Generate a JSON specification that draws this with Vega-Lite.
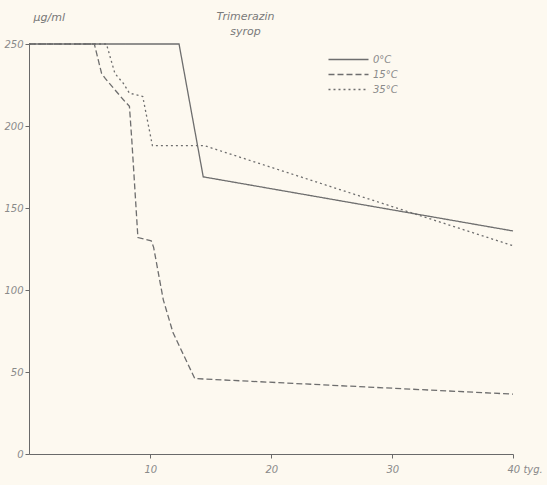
{
  "$schema": "https://vega.github.io/schema/vega-lite/v6.json",
  "width": 484,
  "height": 410,
  "autosize": {"type": "none"},
  "padding": {"left": 29, "top": 44, "right": 34, "bottom": 31},
  "background": "#fdf9f0",
  "config": {
    "view": {"stroke": null},
    "axis": {"grid": false, "domainColor": "#6a6a6a", "tickColor": "#6a6a6a", "labelColor": "#8a8a8a", "labelFont": "DejaVu Sans", "labelFontStyle": "italic", "labelFontSize": 10, "titleColor": "#777"}
  },
  "data": {"values": [
    {"s": "0°C", "o": 1, "x": 0, "y": 250},
    {"s": "0°C", "o": 2, "x": 12.4, "y": 250},
    {"s": "0°C", "o": 3, "x": 14.4, "y": 169},
    {"s": "0°C", "o": 4, "x": 40, "y": 136},
    {"s": "15°C", "o": 1, "x": 0, "y": 250},
    {"s": "15°C", "o": 2, "x": 5.4, "y": 250},
    {"s": "15°C", "o": 3, "x": 6.0, "y": 232},
    {"s": "15°C", "o": 4, "x": 6.3, "y": 229},
    {"s": "15°C", "o": 5, "x": 7.8, "y": 216},
    {"s": "15°C", "o": 6, "x": 8.3, "y": 212},
    {"s": "15°C", "o": 7, "x": 8.5, "y": 191},
    {"s": "15°C", "o": 8, "x": 9.0, "y": 132},
    {"s": "15°C", "o": 9, "x": 10.1, "y": 130},
    {"s": "15°C", "o": 10, "x": 10.3, "y": 126},
    {"s": "15°C", "o": 11, "x": 11.1, "y": 94},
    {"s": "15°C", "o": 12, "x": 11.9, "y": 74},
    {"s": "15°C", "o": 13, "x": 13.7, "y": 46},
    {"s": "15°C", "o": 14, "x": 40, "y": 36.5},
    {"s": "35°C", "o": 1, "x": 0, "y": 250},
    {"s": "35°C", "o": 2, "x": 6.4, "y": 250},
    {"s": "35°C", "o": 3, "x": 7.1, "y": 232},
    {"s": "35°C", "o": 4, "x": 7.8, "y": 226},
    {"s": "35°C", "o": 5, "x": 8.3, "y": 220},
    {"s": "35°C", "o": 6, "x": 9.4, "y": 218},
    {"s": "35°C", "o": 7, "x": 10.2, "y": 188},
    {"s": "35°C", "o": 8, "x": 14.5, "y": 188},
    {"s": "35°C", "o": 9, "x": 40, "y": 127}
  ]},
  "layer": [
    {
      "mark": {"type": "line", "color": "#6e6e6e", "strokeWidth": 1.3},
      "encoding": {
        "x": {"field": "x", "type": "quantitative", "scale": {"domain": [0, 40], "nice": false, "zero": true},
          "axis": {"title": null, "values": [10, 20, 30, 40], "tickSize": 4, "labelPadding": 6, "labelExpr": "datum.value == 40 ? '40 tyg.' : datum.label", "labelAlign": "left", "labelOffset": -6}},
        "y": {"field": "y", "type": "quantitative", "scale": {"domain": [0, 250], "nice": false},
          "axis": {"title": "µg/ml", "titleAngle": 0, "titleX": 4, "titleY": -22, "titleAlign": "left", "titleFontStyle": "italic", "titleFontWeight": "normal", "titleFont": "DejaVu Sans", "titleFontSize": 11, "values": [0, 50, 100, 150, 200, 250], "tickSize": 4, "labelPadding": 2}},
        "order": {"field": "o"},
        "strokeDash": {"field": "s", "type": "nominal", "scale": {"domain": ["0°C", "15°C", "35°C"], "range": [[1, 0], [6, 3], [2, 3]]},
          "legend": {"title": null, "orient": "none", "legendX": 312, "legendY": 8, "symbolType": "M-3,0H3", "symbolSize": 178, "symbolStrokeColor": "#6e6e6e", "symbolStrokeWidth": 1.3, "labelColor": "#8a8a8a", "labelFontStyle": "italic", "labelFont": "DejaVu Sans", "labelFontSize": 10, "rowPadding": 2, "labelOffset": 17}}
      }
    },
    {
      "data": {"values": [{"t": "Trimerazin", "x": 17.9, "y": 266.5}, {"t": "syrop", "x": 17.9, "y": 257.3}]},
      "mark": {"type": "text", "font": "DejaVu Sans", "fontStyle": "italic", "fontSize": 11, "color": "#7a7a7a", "clip": false},
      "encoding": {
        "x": {"field": "x", "type": "quantitative"},
        "y": {"field": "y", "type": "quantitative"},
        "text": {"field": "t"}
      }
    }
  ]
}
